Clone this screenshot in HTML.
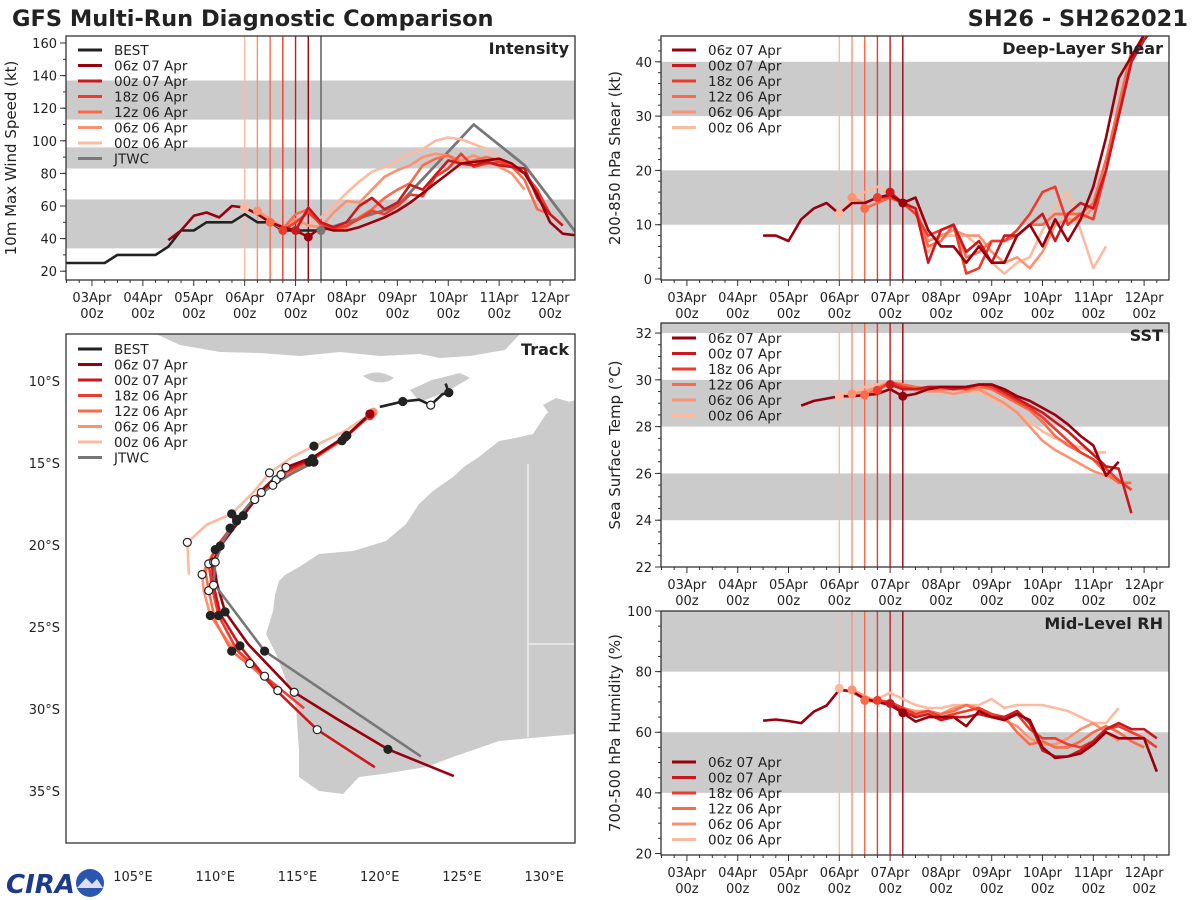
<!DOCTYPE html>
<html><head><meta charset="utf-8"><style>
body{margin:0;background:#fff;}
svg{display:block;font-family:"DejaVu Sans","Liberation Sans",sans-serif;}
</style></head><body>
<svg id="fig" width="1200" height="900" viewBox="0 0 1200 900" xmlns="http://www.w3.org/2000/svg">
<rect x="0" y="0" width="1200" height="900" fill="#fff"/>
<text x="12" y="26" font-size="22.5" font-weight="bold" fill="#222">GFS Multi-Run Diagnostic Comparison</text>
<text x="1188" y="26" font-size="22.5" font-weight="bold" fill="#222" text-anchor="end">SH26 - SH262021</text>
<g>
<text x="6" y="893" font-size="26" font-weight="bold" fill="#1d3a8a" font-style="italic">CIRA</text>
<circle cx="90" cy="883" r="14" fill="#2a55b0"/>
<path d="M77 888 L86 878 L92 884 L97 879 L103 888 Z" fill="#dde"/>
</g>
<g id="layer"></g>
</svg>
<script>
// ===== data =====
const runNames = ["06z 07 Apr","00z 07 Apr","18z 06 Apr","12z 06 Apr","06z 06 Apr","00z 06 Apr"];
const runColors = ["#99000d","#cb181d","#ef3b2c","#fb6a4a","#fc9272","#fcbba1"];
const runInits = [4.25,4.0,3.75,3.5,3.25,3.0];
const dayLabels = ["03Apr","04Apr","05Apr","06Apr","07Apr","08Apr","09Apr","10Apr","11Apr","12Apr"];

const bestStart = -0.5;
const bestInt = [25,25,25,25,30,30,30,30,35,45,45,50,50,50,55,50,50,45,45,45,45];
const jtwcDays = [4.5,5.0,5.5,6.0,7.5,8.5,9.5];
const jtwcInt = [45,50,55,60,110,85,44];

const intStarts = [1.5,4.0,3.75,3.5,3.25,3.0];
const int06z07 = [39,45,54,56,53,60,59,55,50,47,45,41,47,45,45,47,50,53,57,62,68,74,80,86,87,88,89,86,80,67,50,43,42];
const int00z07 = [45,59,50,47,50,60,65,58,62,73,70,79,88,86,85,87,85,84,83,65,55,48];
const int18z06 = [45,50,56,49,46,48,52,57,55,60,67,66,78,83,92,84,86,87,84,80,70,55];
const int12z06 = [50,46,55,58,48,45,47,53,58,65,70,74,85,89,91,86,88,90,88,84,76,58,55];
const int06z06 = [57,52,47,52,48,47,56,63,62,70,78,82,85,90,92,91,88,91,88,84,80,70];
const int00z06 = [59,55,50,47,50,48,53,60,68,75,81,84,88,92,95,100,102,101,98,95,90,85];

const shrStarts = [1.5,4.0,3.75,3.5,3.25,3.0];
const shr06z07 = [8,8,7,11,13,14,12,14,14,15,15.5,14,15,9,6,6,3,6,3,3,8,10,6,11,7,11,17,26,37,41,45];
const shr00z07 = [16,14,13,3,9,10,5,7,3,8,8,10,12,7,12,14,13,20,30,40,44,47];
const shr18z06 = [15,15,14,12,8,9,10,1,2,7,7,9,12,16,17,10,12,11,20,30,40,45];
const shr12z06 = [13,14,15,14,13,6,7,10,4,5,7,7,8,10,10,12,12,12,14,22,32,42];
const shr06z06 = [15,14,15,15,14,13,7,8,9,8,8,5,3,4,2,5,10,11,11,13,20];
const shr00z06 = [12,15,16,17,16,14,12,5,8,8,8,6,3,1,3,4,9,13,16,9,2,6];

const sstStarts = [2.25,4.0,3.75,3.5,3.25,3.0];
const sst06z07 = [28.9,29.1,29.2,29.3,29.3,29.35,29.4,29.6,29.3,29.4,29.6,29.7,29.7,29.7,29.8,29.8,29.6,29.3,29.1,28.8,28.5,28.1,27.6,27.2,25.9,26.5];
const sst00z07 = [29.8,29.6,29.6,29.7,29.7,29.6,29.7,29.8,29.8,29.5,29.2,28.9,28.6,28.2,27.8,27.3,26.8,26.3,26.2,24.3];
const sst18z06 = [29.55,29.9,29.7,29.6,29.6,29.7,29.7,29.6,29.8,29.7,29.4,29.1,28.8,28.4,27.9,27.4,26.9,26.6,26.2,25.7,25.3];
const sst12z06 = [29.35,29.6,29.9,29.8,29.7,29.6,29.6,29.6,29.6,29.7,29.6,29.3,29.0,28.7,28.2,27.6,27.2,26.9,26.6,26.0,25.6,25.6];
const sst06z06 = [29.4,29.5,29.7,29.9,29.8,29.6,29.5,29.5,29.4,29.5,29.6,29.3,29.0,28.6,28.0,27.4,27.0,26.7,26.4,26.1,25.9,25.7];
const sst00z06 = [29.3,29.5,29.7,29.8,29.9,29.8,29.7,29.6,29.5,29.4,29.5,29.5,29.2,28.9,28.6,28.2,27.8,27.5,27.3,27.1,26.9,26.9];

const rhStarts = [1.5,4.0,3.75,3.5,3.25,3.0];
const rh06z07 = [63.8,64.2,63.7,63,66.8,68.8,74,73.5,71,70,69,66.4,63.5,65,65,65,62,67,65,64,66,64,55,51.5,52,53,56,60,58,58,58,47];
const rh00z07 = [69.5,67,65,66,64,65,65,66,65,65,67,63,54,52,52,54,57,61,63,61,61,58];
const rh18z06 = [70.5,70,68,66,67,65,66,67,68,66,65,66,61,58,58,56,55,57,61,62,60,58,55];
const rh12z06 = [70.5,70,69,68,66,67,66,67,69,67,66,65,60,56,57,55,55,57,60,62,60,57,55];
const rh06z06 = [74,72,70,69,68,67,67,66,68,69,68,66,64,62,58,56,56,58,61,63,60,57];
const rh00z06 = [74.5,73,71,71,73,71,69,68,68,69,69,69,71,68,69,69,69,68,67,65,63,63,68];

const bestLon = [124.0,124.2,123.8,123.1,122.4,121.4,120.0];
const bestLat = [10.16,10.71,10.81,11.47,11.14,11.25,11.58];
const jtwcLon = [116.0,114.75,113.5,112.3,111.3,110.5,110.0,109.9,113.0,122.5];
const jtwcLat = [14.95,15.60,16.36,17.23,18.43,19.73,21.04,22.34,26.47,32.89];
const trk06z07Lon = [119.4,118.0,116.0,114.3,112.9,111.7,110.4,109.9,110.1,110.6,112.0,114.8,117.4,120.5,124.5];
const trk06z07Lat = [12.01,13.32,14.62,15.27,16.58,18.21,19.95,21.04,22.34,24.08,26.04,28.98,30.61,32.46,34.09];
const trk00z07Lon = [119.4,118.0,115.9,114.2,112.8,111.6,110.3,109.8,109.9,110.3,111.5,113.5,116.2,119.7];
const trk00z07Lat = [12.01,13.32,14.73,15.49,16.8,18.32,20.06,21.15,22.45,24.19,26.15,28.65,31.26,33.55];
const trk18z06Lon = [119.4,117.9,115.8,114.0,112.5,111.3,110.1,109.6,109.8,110.2,111.3,113.0,115.4];
const trk18z06Lat = [12.12,13.42,14.84,15.71,17.01,18.54,20.06,21.15,22.56,24.3,26.37,28.0,29.95];
const trk12z06Lon = [119.5,117.8,115.7,113.9,112.4,111.2,110.0,109.4,109.6,110.0,111.0,112.5,113.8];
const trk12z06Lat = [12.01,13.53,14.95,15.92,17.23,18.75,20.28,21.58,22.78,24.63,26.47,27.67,28.87];
const trk06z06Lon = [119.6,117.7,115.5,113.7,112.2,110.9,109.8,109.2,109.3,109.7,110.8,112.1,113.0];
const trk06z06Lat = [11.9,13.64,15.05,16.03,17.45,18.97,20.6,21.8,22.78,24.3,25.93,27.23,28.21];
const trk00z06Lon = [119.6,117.8,116.0,114.7,113.3,112.3,111.0,109.5,108.3,108.4];
const trk00z06Lat = [11.9,13.1,13.97,14.62,15.6,16.8,18.1,18.75,19.84,21.8];

// ===== drawing =====
const NS="http://www.w3.org/2000/svg";
const layer=document.getElementById('layer');
function mk(tag,attrs,parent){const e=document.createElementNS(NS,tag);for(const k in attrs)e.setAttribute(k,attrs[k]);(parent||layer).appendChild(e);return e;}
function txt(x,y,s,size,attrs,parent){const t=mk('text',Object.assign({x:x,y:y,'font-size':size,fill:'#222'},attrs||{}),parent);t.textContent=s;return t;}

function makePanel(cfg){
  const g=mk('g',{});
  
  
  const {x0,y0,w,h,vmin,vmax}=cfg;
  const dmin=-0.51,dmax=9.49;
  const sx=d=>x0+(d-dmin)/(dmax-dmin)*w;
  const sy=v=>y0+h-(v-vmin)/(vmax-vmin)*h;
  const cid='clip-'+cfg.name;
  const cp=mk('clipPath',{id:cid},g);mk('rect',{x:x0,y:y0,width:w,height:h},cp);
  const inner=mk('g',{'clip-path':'url(#'+cid+')'},g);
  cfg.bands.forEach(b=>{
    const r=mk('rect',{x:x0,y:sy(b[1]),width:w,height:sy(b[0])-sy(b[1]),fill:'#cbcbcb'},inner);
    
    
  });
  for(let i=runInits.length-1;i>=0;i--){
    const l=mk('line',{x1:sx(runInits[i]),x2:sx(runInits[i]),y1:y0,y2:y0+h,stroke:runColors[i],'stroke-width':1.4},inner);
    
    
  }
  if(cfg.jtwcLine){const l=mk('line',{x1:sx(4.5),x2:sx(4.5),y1:y0,y2:y0+h,stroke:'#777','stroke-width':1.8},inner);
    
    }
  function series(start,vals,color,name,width){
    const pts=vals.map((v,i)=>sx(start+i*0.25).toFixed(1)+','+sy(v).toFixed(1)).join(' ');
    const p=mk('polyline',{points:pts,fill:'none',stroke:color,'stroke-width':width||2.6,'stroke-linejoin':'round'},inner);
    
    
  }
  if(cfg.best){series(bestStart,bestInt,'#222','best-track-line');
    const pts=jtwcDays.map((d,i)=>sx(d)+','+sy(jtwcInt[i])).join(' ');
    const p=mk('polyline',{points:pts,fill:'none',stroke:'#777','stroke-width':2.8},inner);
    
    }
  for(let i=5;i>=0;i--){series(cfg.starts[i],cfg.data[i],runColors[i],'run-line-'+runNames[i].replace(/ /g,'-').toLowerCase());}
  for(let i=5;i>=0;i--){const idx=Math.round((runInits[i]-cfg.starts[i])/0.25);
    const c=mk('circle',{cx:sx(runInits[i]),cy:sy(cfg.data[i][idx]),r:4.5,fill:runColors[i]},inner);
    
    }
  if(cfg.best){const c=mk('circle',{cx:sx(4.5),cy:sy(45),r:4.5,fill:'#777'},inner);
    
    }
  mk('rect',{x:x0,y:y0,width:w,height:h,fill:'none',stroke:'#333','stroke-width':1.3},g);
  for(let q=-2;q<=38;q++){const d=q*0.25;const x=sx(d);if(x<x0||x>x0+w)continue;const major=(q%4===0);
    mk('line',{x1:x,x2:x,y1:y0+h,y2:y0+h+(major?6:3),stroke:'#333','stroke-width':1},g);}
  dayLabels.forEach((s,i)=>{const x=sx(i);
    const t=txt(x,y0+h+22,s,13,{'text-anchor':'middle'},g);
    
    
    const t2=txt(x,y0+h+38,'00z',13,{'text-anchor':'middle'},g);
    
    });
  for(let v=cfg.yMinorStart;v<=vmax+1e-6;v+=cfg.yMinor){if(v<vmin-1e-6)continue;mk('line',{x1:x0,x2:x0-3,y1:sy(v),y2:sy(v),stroke:'#333','stroke-width':1},g);}
  cfg.yTicks.forEach(v=>{mk('line',{x1:x0,x2:x0-6,y1:sy(v),y2:sy(v),stroke:'#333','stroke-width':1},g);
    const t=txt(x0-9,sy(v)+5,String(v),13,{'text-anchor':'end'},g);
    
    });
  const yl=txt(0,0,cfg.ylabel,15,{'text-anchor':'middle',transform:'translate('+cfg.ylx+','+(y0+h/2)+') rotate(-90)'},g);
  
  
  const pt=txt(x0+w-6,y0+18,cfg.title,16,{'text-anchor':'end','font-weight':'bold'},g);
  
  
  return g;
}

function legend(x,y,entries,parent){
  const g=mk('g',{},parent);
  
  
  entries.forEach((e,i)=>{const yy=y+i*15.5;
    mk('line',{x1:x,x2:x+24,y1:yy,y2:yy,stroke:e[1],'stroke-width':3},g);
    const t=txt(x+36,yy+5,e[0],13.5,{},g);
    
    });
}
const runEntries=runNames.map((n,i)=>[n,runColors[i]]);

const pInt=makePanel({name:'intensity-panel',x0:66,y0:36,w:509,h:244,vmin:14.6,vmax:164.3,bands:[[34,64],[83,96],[113,137]],
  starts:intStarts,data:[int06z07,int00z07,int18z06,int12z06,int06z06,int00z06],best:true,jtwcLine:true,
  yTicks:[20,40,60,80,100,120,140,160],yMinor:10,yMinorStart:20,ylabel:'10m Max Wind Speed (kt)',ylx:16,title:'Intensity'});
legend(78,50,[['BEST','#222']].concat(runEntries).concat([['JTWC','#777']]),pInt);

const pShr=makePanel({name:'shear-panel',x0:661,y0:36,w:508,h:244,vmin:-0.18,vmax:44.75,bands:[[10,20],[30,40]],
  starts:shrStarts,data:[shr06z07,shr00z07,shr18z06,shr12z06,shr06z06,shr00z06],
  yTicks:[0,10,20,30,40],yMinor:2,yMinorStart:0,ylabel:'200-850 hPa Shear (kt)',ylx:620,title:'Deep-Layer Shear'});
legend(672,50,runEntries,pShr);

const pSst=makePanel({name:'sst-panel',x0:661,y0:323,w:508,h:244,vmin:22,vmax:32.43,bands:[[24,26],[28,30],[32,34]],
  starts:sstStarts,data:[sst06z07,sst00z07,sst18z06,sst12z06,sst06z06,sst00z06],
  yTicks:[22,24,26,28,30,32],yMinor:0.5,yMinorStart:22,ylabel:'Sea Surface Temp (°C)',ylx:620,title:'SST'});
legend(672,338,runEntries,pSst);

const pRh=makePanel({name:'rh-panel',x0:661,y0:611,w:508,h:244,vmin:19.5,vmax:100,bands:[[40,60],[80,100]],
  starts:rhStarts,data:[rh06z07,rh00z07,rh18z06,rh12z06,rh06z06,rh00z06],
  yTicks:[20,40,60,80,100],yMinor:5,yMinorStart:20,ylabel:'700-500 hPa Humidity (%)',ylx:620,title:'Mid-Level RH'});
legend(672,762,runEntries,pRh);

// ===== track map =====
(function(){
  const g=mk('g',{});
  
  
  const X0=66,Y0=334,W=509,H=509;
  const lx=lon=>133+(lon-105)*16.45;
  const ly=lat=>381+(lat-10)*16.4;
  const cp=mk('clipPath',{id:'clip-map'},g);mk('rect',{x:X0,y:Y0,width:W,height:H},cp);
  const inner=mk('g',{'clip-path':'url(#clip-map)'},g);
  const land=mk('polygon',{points:'576,400 560,404 546,414 533,434 515,438 499,441 479,457 465,466 453,477 440,486 433,491 419,504 406,524 386,541 353,551 319,554 299,567 285,575 279,581 275,595 273,611 266,634 276,654 286,680 296,707 299,751 299,777 319,791 343,794 359,777 383,774 426,767 453,757 499,741 576,734',fill:'#cbcbcb'},inner);
  
  
  const isl=mk('path',{d:'M156 334 L520 334 L505 350 L470 356 L440 358 L420 354 L380 356 L340 352 L300 356 L260 353 L220 352 L180 345 Z M363 376 Q378 368 394 378 Q380 388 363 376 Z M410 390 L432 380 L460 373 L470 378 L446 392 L420 402 Z M543 405 L556 398 L570 402 L562 412 L548 412 Z',fill:'#cbcbcb'},inner);
  
  
  mk('path',{d:'M528 464 L528 737 M528 644 L576 644',stroke:'#eee','stroke-width':1.5,fill:'none'},inner);
  function trk(lons,lats,color,name,w){
    const pts=lons.map((v,i)=>lx(v).toFixed(1)+','+ly(lats[i]).toFixed(1)).join(' ');
    const p=mk('polyline',{points:pts,fill:'none',stroke:color,'stroke-width':w||2.6,'stroke-linejoin':'round'},inner);
    
    
  }
  function marks(lons,lats,off){
    for(let i=off;i<lons.length;i+=2){const filled=((i-off)/2)%2===0;
      const c=mk('circle',{cx:lx(lons[i]),cy:ly(lats[i]),r:4,fill:filled?'#222':'#fff',stroke:'#222','stroke-width':1.2},inner);
      
      }
  }
  const tl=[trk06z07Lon,trk00z07Lon,trk18z06Lon,trk12z06Lon,trk06z06Lon,trk00z06Lon];
  const tt=[trk06z07Lat,trk00z07Lat,trk18z06Lat,trk12z06Lat,trk06z06Lat,trk00z06Lat];
  for(let i=5;i>=0;i--)trk(tl[i],tt[i],runColors[i],'track-'+runNames[i].replace(/ /g,'-').toLowerCase());
  trk(jtwcLon,jtwcLat,'#777','track-jtwc',2.6);
  trk(bestLon,bestLat,'#222','track-best',2.6);
  for(let i=5;i>=0;i--)marks(tl[i],tt[i],(i%2)+1);
  marks(jtwcLon,jtwcLat,0);
  marks(bestLon,bestLat,1);
  for(let i=5;i>=0;i--){const c=mk('circle',{cx:lx(tl[i][0]),cy:ly(tt[i][0]),r:4.5,fill:runColors[i]},inner);
    
    }
  mk('rect',{x:X0,y:Y0,width:W,height:H,fill:'none',stroke:'#333','stroke-width':1.3},g);
  [105,110,115,120,125,130].forEach(v=>{const t=txt(lx(v),881,v+'°E',13,{'text-anchor':'middle'},g);
    
    });
  [10,15,20,25,30,35].forEach(v=>{const t=txt(60,ly(v)+5,v+'°S',13,{'text-anchor':'end'},g);
    
    });
  const pt=txt(569,355,'Track',16,{'text-anchor':'end','font-weight':'bold'},g);
  
  
  legend(78,349,[['BEST','#222']].concat(runEntries).concat([['JTWC','#777']]),g);
})();
</script>
</body></html>
